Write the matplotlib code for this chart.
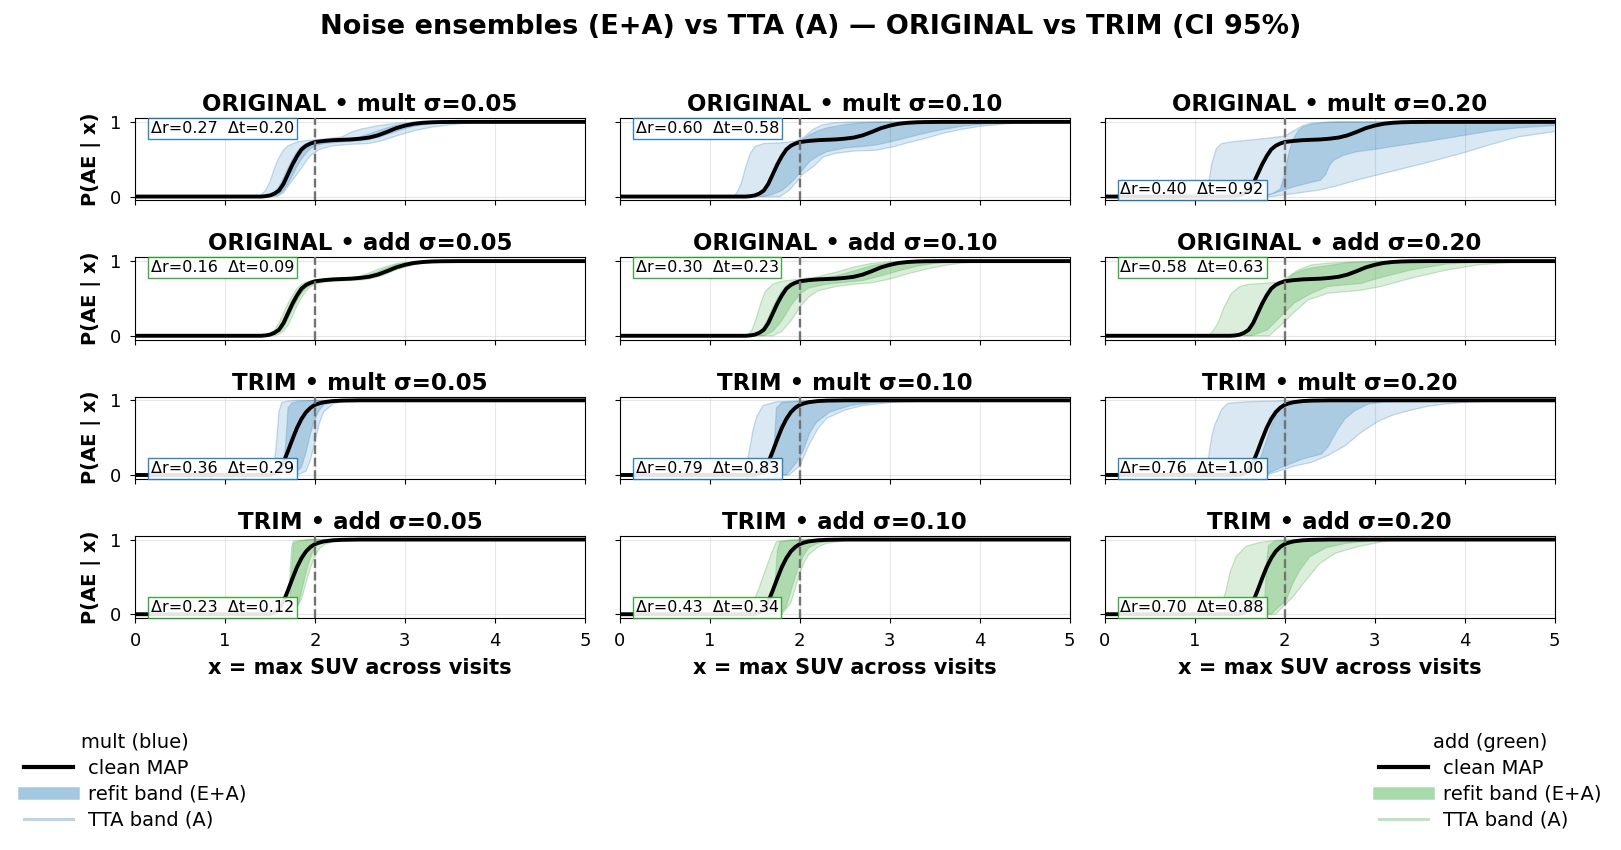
import matplotlib
matplotlib.use("Agg")
import matplotlib.pyplot as plt
from matplotlib.lines import Line2D
import numpy as np

# ---------------- data ----------------
DATASETS = ["ORIGINAL", "TRIM"]
NOISE = ["mult", "add"]
SIGMAS = ["0.05", "0.10", "0.20"]

CLEAN_ORIG_X = [0, 1.4, 1.45, 1.5, 1.55, 1.6, 1.65, 1.7, 1.75, 1.8, 1.85, 1.9, 1.95, 2.0, 2.1, 2.2, 2.3,
                2.4, 2.5, 2.6, 2.7, 2.8, 2.9, 3.0, 3.1, 3.2, 3.3, 3.4, 3.6, 5]
CLEAN_ORIG_Y = [0, 0, 0.005, 0.015, 0.04, 0.08, 0.17, 0.30, 0.43, 0.54, 0.63, 0.68, 0.71, 0.73, 0.745,
                0.755, 0.76, 0.765, 0.775, 0.79, 0.82, 0.865, 0.915, 0.95, 0.975, 0.988, 0.995, 0.998, 1, 1]
CLEAN_TRIM_X = [0, 1.5, 1.55, 1.6, 1.65, 1.7, 1.75, 1.8, 1.85, 1.9, 1.95, 2.0, 2.05, 2.1, 2.2, 2.3, 2.5, 5]
CLEAN_TRIM_Y = [0, 0, 0.02, 0.07, 0.17, 0.32, 0.48, 0.63, 0.75, 0.84, 0.9, 0.94, 0.96, 0.975, 0.99, 0.996, 1, 1]

# band bounds as (x, y) points; HI = upper/left edge, LO = lower/right edge
OM05_TTA_HI = [(0,0),(1.38,0),(1.45,0.08),(1.5,0.2),(1.55,0.38),(1.6,0.52),(1.65,0.62),(1.7,0.68),(1.8,0.73),(1.9,0.75),(2.1,0.77),(2.3,0.8),(2.4,0.86),(2.5,0.9),(2.7,0.95),(2.9,0.98),(3.1,0.995),(3.3,1),(5,1)]
OM05_TTA_LO = [(0,0),(1.58,0),(1.65,0.05),(1.72,0.17),(1.8,0.3),(1.85,0.38),(1.9,0.47),(1.95,0.55),(2.05,0.63),(2.2,0.68),(2.4,0.7),(2.6,0.71),(2.75,0.75),(2.9,0.81),(3.1,0.88),(3.3,0.93),(3.5,0.96),(3.7,0.985),(3.9,1),(5,1)]
OM05_REF_HI = [(0,0),(1.45,0),(1.5,0.02),(1.55,0.06),(1.6,0.13),(1.65,0.25),(1.7,0.38),(1.75,0.5),(1.8,0.6),(1.85,0.67),(1.9,0.71),(2.0,0.74),(2.2,0.76),(2.4,0.775),(2.5,0.8),(2.6,0.84),(2.7,0.88),(2.8,0.92),(2.9,0.955),(3.0,0.975),(3.2,0.995),(3.4,1),(5,1)]
OM05_REF_LO = [(0,0),(1.52,0),(1.6,0.03),(1.65,0.08),(1.7,0.17),(1.75,0.28),(1.8,0.4),(1.85,0.5),(1.9,0.58),(1.95,0.64),(2.0,0.68),(2.1,0.71),(2.3,0.73),(2.5,0.745),(2.6,0.76),(2.7,0.79),(2.8,0.83),(2.9,0.87),(3.0,0.91),(3.1,0.94),(3.2,0.96),(3.4,0.985),(3.6,1),(5,1)]

OM10_TTA_HI = [(0,0),(1.26,0),(1.3,0.05),(1.35,0.18),(1.4,0.4),(1.45,0.58),(1.5,0.67),(1.6,0.71),(1.8,0.72),(1.95,0.74),(2.05,0.8),(2.15,0.9),(2.25,0.96),(2.4,0.99),(2.6,1),(5,1)]
OM10_TTA_LO = [(0,0),(1.78,0),(1.88,0.08),(1.96,0.19),(2.04,0.31),(2.15,0.4),(2.26,0.53),(2.4,0.58),(2.6,0.61),(2.85,0.62),(3.05,0.67),(3.2,0.72),(3.4,0.78),(3.6,0.85),(3.8,0.9),(4.0,0.94),(4.3,0.975),(4.6,0.99),(5,1)]
OM10_REF_HI = [(0,0),(1.48,0),(1.55,0.04),(1.6,0.1),(1.65,0.18),(1.7,0.3),(1.75,0.43),(1.8,0.55),(1.85,0.64),(1.9,0.69),(2.0,0.74),(2.1,0.82),(2.2,0.88),(2.3,0.92),(2.5,0.965),(2.7,0.99),(2.9,1),(5,1)]
OM10_REF_LO = [(0,0),(1.6,0),(1.7,0.03),(1.8,0.08),(1.9,0.18),(1.96,0.26),(2.05,0.38),(2.11,0.47),(2.2,0.54),(2.3,0.6),(2.5,0.65),(2.7,0.67),(2.85,0.69),(3.0,0.73),(3.2,0.79),(3.4,0.85),(3.6,0.9),(3.8,0.94),(4.0,0.965),(4.3,0.99),(4.6,1),(5,1)]

OM20_TTA_HI = [(0,0),(1.1,0),(1.15,0.15),(1.19,0.44),(1.24,0.64),(1.3,0.71),(1.4,0.73),(1.6,0.755),(1.8,0.78),(2.0,0.81),(2.1,0.88),(2.2,0.95),(2.3,0.985),(2.5,1),(5,1)]
OM20_TTA_LO = [(0,0),(1.85,0),(2.1,0.04),(2.4,0.09),(2.6,0.15),(2.8,0.22),(3.0,0.28),(3.2,0.34),(3.6,0.46),(4.0,0.59),(4.3,0.7),(4.6,0.8),(5,0.87)]
OM20_REF_HI = [(0,0),(1.7,0),(1.85,0.03),(1.95,0.1),(2.0,0.3),(2.05,0.6),(2.1,0.78),(2.15,0.88),(2.2,0.93),(2.3,0.97),(2.45,0.99),(2.6,1),(5,1)]
OM20_REF_LO = [(0,0),(1.72,0),(1.9,0.05),(2.1,0.13),(2.3,0.19),(2.4,0.22),(2.46,0.3),(2.5,0.42),(2.55,0.49),(2.65,0.55),(2.8,0.6),(3.0,0.63),(3.2,0.67),(3.6,0.74),(4.0,0.82),(4.3,0.88),(4.6,0.92),(5,0.95)]

OA05_TTA_HI = [(0,0),(1.45,0),(1.5,0.03),(1.55,0.08),(1.6,0.17),(1.65,0.3),(1.7,0.43),(1.75,0.54),(1.8,0.63),(1.85,0.69),(1.9,0.72),(2.0,0.745),(2.2,0.765),(2.4,0.78),(2.5,0.8),(2.6,0.84),(2.7,0.89),(2.8,0.93),(2.9,0.965),(3.0,0.985),(3.2,1),(5,1)]
OA05_TTA_LO = [(0,0),(1.55,0),(1.6,0.02),(1.65,0.06),(1.7,0.14),(1.75,0.26),(1.8,0.4),(1.85,0.51),(1.9,0.6),(1.95,0.66),(2.0,0.69),(2.1,0.72),(2.3,0.735),(2.5,0.745),(2.6,0.76),(2.7,0.79),(2.8,0.83),(2.9,0.88),(3.0,0.92),(3.1,0.95),(3.2,0.97),(3.4,0.99),(3.6,1),(5,1)]
OA05_REF_HI = [(0,0),(1.47,0),(1.55,0.05),(1.6,0.11),(1.65,0.22),(1.7,0.36),(1.75,0.48),(1.8,0.58),(1.85,0.66),(1.9,0.7),(2.0,0.74),(2.2,0.76),(2.4,0.77),(2.5,0.785),(2.6,0.815),(2.7,0.86),(2.8,0.91),(2.9,0.95),(3.0,0.975),(3.2,0.995),(3.4,1),(5,1)]
OA05_REF_LO = [(0,0),(1.5,0),(1.6,0.05),(1.65,0.11),(1.7,0.22),(1.75,0.35),(1.8,0.47),(1.85,0.57),(1.9,0.64),(1.95,0.68),(2.0,0.71),(2.2,0.74),(2.4,0.755),(2.6,0.77),(2.7,0.8),(2.8,0.85),(2.9,0.9),(3.0,0.94),(3.1,0.965),(3.2,0.98),(3.4,0.995),(3.6,1),(5,1)]

OA10_TTA_HI = [(0,0),(1.42,0),(1.47,0.08),(1.52,0.25),(1.57,0.45),(1.62,0.6),(1.7,0.69),(1.8,0.73),(2.0,0.76),(2.2,0.79),(2.4,0.85),(2.6,0.92),(2.8,0.97),(3.0,0.99),(3.2,1),(5,1)]
OA10_TTA_LO = [(0,0),(1.7,0),(1.8,0.06),(1.9,0.2),(2.0,0.38),(2.1,0.52),(2.2,0.6),(2.4,0.66),(2.6,0.69),(2.8,0.71),(3.0,0.76),(3.2,0.83),(3.4,0.89),(3.6,0.94),(3.8,0.975),(4.0,0.99),(4.3,1),(5,1)]
OA10_REF_HI = [(0,0),(1.5,0),(1.55,0.05),(1.6,0.12),(1.65,0.24),(1.7,0.38),(1.75,0.5),(1.8,0.6),(1.85,0.67),(1.9,0.71),(2.0,0.745),(2.2,0.77),(2.4,0.8),(2.6,0.87),(2.8,0.94),(3.0,0.98),(3.2,0.995),(3.4,1),(5,1)]
OA10_REF_LO = [(0,0),(1.6,0),(1.7,0.06),(1.8,0.2),(1.9,0.4),(2.0,0.56),(2.1,0.64),(2.3,0.69),(2.5,0.715),(2.7,0.74),(2.9,0.8),(3.1,0.87),(3.3,0.93),(3.5,0.97),(3.7,0.99),(4.0,1),(5,1)]

OA20_TTA_HI = [(0,0),(1.15,0),(1.2,0.06),(1.26,0.17),(1.33,0.39),(1.41,0.57),(1.5,0.66),(1.6,0.69),(1.75,0.7),(1.95,0.72),(2.05,0.8),(2.15,0.88),(2.3,0.95),(2.5,0.975),(2.8,0.99),(3.2,1),(5,1)]
OA20_TTA_LO = [(0,0),(1.83,0),(1.92,0.1),(2.0,0.19),(2.11,0.32),(2.26,0.48),(2.48,0.57),(2.85,0.61),(3.07,0.66),(3.4,0.77),(3.8,0.88),(4.15,0.95),(4.5,0.98),(5,0.99)]
OA20_REF_HI = [(0,0),(1.48,0),(1.55,0.04),(1.6,0.09),(1.65,0.17),(1.7,0.29),(1.75,0.42),(1.8,0.54),(1.85,0.63),(1.9,0.68),(2.0,0.73),(2.1,0.83),(2.2,0.88),(2.3,0.91),(2.5,0.945),(2.7,0.98),(3.0,0.995),(3.2,1),(5,1)]
OA20_REF_LO = [(0,0),(1.62,0),(1.7,0.03),(1.81,0.08),(1.96,0.26),(2.11,0.44),(2.3,0.57),(2.48,0.66),(2.85,0.7),(3.04,0.77),(3.4,0.88),(3.8,0.96),(4.15,0.99),(4.5,1),(5,1)]

TM05_TTA_HI = [(0,0),(1.5,0),(1.54,0.05),(1.57,0.4),(1.6,0.85),(1.63,0.97),(1.7,0.99),(1.8,1),(5,1)]
TM05_TTA_LO = [(0,0),(1.8,0),(1.9,0.05),(1.95,0.2),(2.0,0.45),(2.05,0.7),(2.1,0.85),(2.2,0.95),(2.3,0.985),(2.5,1),(5,1)]
TM05_REF_HI = [(0,0),(1.6,0),(1.65,0.1),(1.68,0.5),(1.7,0.9),(1.75,0.97),(1.85,0.99),(2.0,1),(5,1)]
TM05_REF_LO = [(0,0),(1.75,0),(1.85,0.1),(1.9,0.3),(1.95,0.55),(2.0,0.75),(2.05,0.87),(2.1,0.94),(2.2,0.98),(2.4,1),(5,1)]

TM10_TTA_HI = [(0,0),(1.35,0),(1.4,0.1),(1.44,0.33),(1.48,0.6),(1.52,0.78),(1.59,0.93),(1.74,0.98),(2.0,0.99),(2.2,1),(5,1)]
TM10_TTA_LO = [(0,0),(1.88,0),(2.0,0.12),(2.1,0.4),(2.2,0.62),(2.3,0.76),(2.5,0.87),(2.7,0.93),(3.0,0.97),(3.4,0.99),(3.8,1),(5,1)]
TM10_REF_HI = [(0,0),(1.55,0),(1.65,0.05),(1.7,0.15),(1.72,0.5),(1.74,0.9),(1.8,0.97),(2.0,0.99),(2.3,1),(5,1)]
TM10_REF_LO = [(0,0),(1.85,0),(1.96,0.16),(2.04,0.33),(2.11,0.56),(2.19,0.71),(2.33,0.84),(2.56,0.93),(2.81,0.97),(3.19,0.99),(3.5,1),(5,1)]

TM20_TTA_HI = [(0,0),(1.1,0),(1.15,0.2),(1.19,0.52),(1.22,0.66),(1.3,0.88),(1.37,0.96),(1.56,0.98),(1.89,0.99),(2.1,1),(5,1)]
TM20_TTA_LO = [(0,0),(1.8,0),(2.11,0.12),(2.3,0.17),(2.48,0.26),(2.67,0.39),(2.85,0.57),(3.04,0.72),(3.22,0.81),(3.41,0.87),(3.59,0.92),(3.78,0.95),(3.96,0.97),(4.33,0.99),(4.7,1),(5,1)]
TM20_REF_HI = [(0,0),(1.6,0),(1.7,0.12),(1.78,0.4),(1.85,0.65),(1.92,0.85),(2.0,0.94),(2.1,0.99),(2.3,1),(5,1)]
TM20_REF_LO = [(0,0),(1.78,0),(2.0,0.12),(2.19,0.21),(2.41,0.28),(2.48,0.37),(2.59,0.61),(2.67,0.75),(2.78,0.86),(2.93,0.95),(3.11,0.98),(3.41,0.99),(3.8,1),(5,1)]

TA05_TTA_HI = [(0,0),(1.66,0),(1.7,0.1),(1.72,0.5),(1.74,0.9),(1.76,0.98),(1.84,0.99),(1.94,1),(5,1)]
TA05_TTA_LO = [(0,0),(1.75,0),(1.85,0.2),(1.9,0.42),(1.95,0.62),(2.0,0.78),(2.05,0.88),(2.1,0.93),(2.2,0.97),(2.35,0.99),(2.5,1),(5,1)]
TA05_REF_HI = [(0,0),(1.69,0),(1.72,0.1),(1.74,0.6),(1.76,0.95),(1.83,0.98),(1.93,1),(5,1)]
TA05_REF_LO = [(0,0),(1.74,0),(1.82,0.15),(1.87,0.4),(1.92,0.65),(1.97,0.82),(2.02,0.92),(2.1,0.97),(2.2,0.99),(2.4,1),(5,1)]

TA10_TTA_HI = [(0,0),(1.4,0),(1.45,0.06),(1.5,0.2),(1.55,0.36),(1.6,0.53),(1.65,0.7),(1.7,0.86),(1.74,0.97),(1.85,0.99),(2.0,1),(5,1)]
TA10_TTA_LO = [(0,0),(1.8,0),(1.9,0.15),(1.95,0.35),(2.0,0.55),(2.05,0.7),(2.1,0.8),(2.2,0.9),(2.3,0.95),(2.5,0.985),(2.8,1),(5,1)]
TA10_REF_HI = [(0,0),(1.62,0),(1.68,0.1),(1.72,0.35),(1.75,0.85),(1.78,0.97),(1.9,0.99),(2.1,1),(5,1)]
TA10_REF_LO = [(0,0),(1.78,0),(1.85,0.1),(1.9,0.3),(1.95,0.5),(2.0,0.68),(2.05,0.8),(2.1,0.89),(2.2,0.95),(2.35,0.985),(2.6,1),(5,1)]

TA20_TTA_HI = [(0,0),(1.24,0),(1.28,0.05),(1.35,0.32),(1.39,0.55),(1.46,0.77),(1.57,0.91),(1.72,0.96),(1.91,0.99),(2.1,1),(5,1)]
TA20_TTA_LO = [(0,0),(1.9,0),(2.09,0.23),(2.24,0.46),(2.39,0.68),(2.57,0.82),(2.83,0.91),(3.13,0.98),(3.5,1),(5,1)]
TA20_REF_HI = [(0,0),(1.6,0),(1.7,0.05),(1.78,0.2),(1.8,0.7),(1.82,0.92),(1.88,0.97),(2.0,0.99),(2.2,1),(5,1)]
TA20_REF_LO = [(0,0),(1.85,0),(2.02,0.19),(2.09,0.41),(2.17,0.59),(2.28,0.77),(2.46,0.89),(2.69,0.95),(3.02,0.99),(3.3,1),(5,1)]

# delta annotations (refit, tta) per row (OM, OA, TM, TA) and sigma
DELTA_R = [[0.27, 0.60, 0.40], [0.16, 0.30, 0.58], [0.36, 0.79, 0.76], [0.23, 0.43, 0.70]]
DELTA_T = [[0.20, 0.58, 0.92], [0.09, 0.23, 0.63], [0.29, 0.83, 1.00], [0.12, 0.34, 0.88]]
BOX_AT_TOP = [[True, True, False], [True, True, True], [False, False, False], [False, False, False]]

ROW_KEYS = ["OM", "OA", "TM", "TA"]
SIG_KEYS = ["05", "10", "20"]
g = globals()

COLORS = {"mult": "#1f77b4", "add": "#2ca02c"}

# ---------------- figure ----------------
fig, axes = plt.subplots(4, 3, figsize=(16.21, 8.5), dpi=100, sharex=True, sharey=True)
fig.subplots_adjust(left=0.0833, right=0.959, top=0.861, bottom=0.273, wspace=0.0778, hspace=0.695)

def poly(ax, hi, lo, color, falpha, ealpha, z):
    xs = [p[0] for p in hi] + [p[0] for p in lo[::-1]]
    ys = [p[1] for p in hi] + [p[1] for p in lo[::-1]]
    ax.fill(xs, ys, facecolor=color, alpha=falpha, edgecolor='none', zorder=z)
    ax.plot([p[0] for p in hi], [p[1] for p in hi], color=color, alpha=ealpha, lw=0.9, zorder=z)
    ax.plot([p[0] for p in lo], [p[1] for p in lo], color=color, alpha=ealpha, lw=0.9, zorder=z)

for r in range(4):
    ds = DATASETS[r // 2]
    nz = NOISE[r % 2]
    col = COLORS[nz]
    cx = CLEAN_ORIG_X if ds == "ORIGINAL" else CLEAN_TRIM_X
    cy = CLEAN_ORIG_Y if ds == "ORIGINAL" else CLEAN_TRIM_Y
    for c in range(3):
        ax = axes[r, c]
        key = ROW_KEYS[r] + SIG_KEYS[c]
        poly(ax, g[key + "_TTA_HI"], g[key + "_TTA_LO"], col, 0.17, 0.25, 1)
        poly(ax, g[key + "_REF_HI"], g[key + "_REF_LO"], col, 0.25, 0.2, 1.2)
        ax.plot(cx, cy, color='black', lw=2.8, zorder=3)
        ax.axvline(2.0, color='0.45', ls='--', lw=1.7, zorder=3.2)
        ax.set_xlim(0, 5)
        ax.set_ylim(-0.05, 1.05)
        ax.set_yticks([0, 1])
        ax.set_xticks([0, 1, 2, 3, 4, 5])
        ax.grid(True, alpha=0.3, lw=0.8)
        ax.set_axisbelow(True)
        ax.tick_params(labelsize=13, pad=6.5)
        ax.set_title(f"{ds} \u2022 {nz} \u03c3={SIGMAS[c]}", fontsize=16.5, fontweight='bold', pad=5)
        txt = f"\u0394r={DELTA_R[r][c]:.2f}  \u0394t={DELTA_T[r][c]:.2f}"
        if BOX_AT_TOP[r][c]:
            ax.text(0.035, 0.965, txt, transform=ax.transAxes, ha='left', va='top', fontsize=11.5,
                    bbox=dict(boxstyle='square,pad=0.18', fc='white', ec=col, lw=1.0, alpha=0.9), zorder=6)
        else:
            ax.text(0.035, 0.035, txt, transform=ax.transAxes, ha='left', va='bottom', fontsize=11.5,
                    bbox=dict(boxstyle='square,pad=0.18', fc='white', ec=col, lw=1.0, alpha=0.9), zorder=6)
        if c == 0:
            ax.set_ylabel("P(AE | x)", fontsize=14, fontweight='bold', labelpad=6)
        if r == 3:
            ax.set_xlabel("x = max SUV across visits", fontsize=15, fontweight='bold', labelpad=6)

fig.suptitle("Noise ensembles (E+A) vs TTA (A) \u2014 ORIGINAL vs TRIM (CI 95%)",
             fontsize=19.5, fontweight='bold', y=0.983)

def handles(color):
    return [Line2D([], [], color='black', lw=3),
            Line2D([], [], color=color, lw=9, alpha=0.4),
            Line2D([], [], color=color, lw=2.2, alpha=0.3)]

labels = ["clean MAP", "refit band (E+A)", "TTA band (A)"]
fig.legend(handles(COLORS["mult"]), labels, title="mult (blue)", loc='lower left',
           bbox_to_anchor=(0.004, 0.003), frameon=False, fontsize=14, title_fontsize=14,
           handlelength=2.5, labelspacing=0.36, handletextpad=0.8)
fig.legend(handles(COLORS["add"]), labels, title="add (green)", loc='lower right',
           bbox_to_anchor=(0.999, 0.003), frameon=False, fontsize=14, title_fontsize=14,
           handlelength=2.5, labelspacing=0.36, handletextpad=0.8)

fig.savefig("out.png", dpi=100)
